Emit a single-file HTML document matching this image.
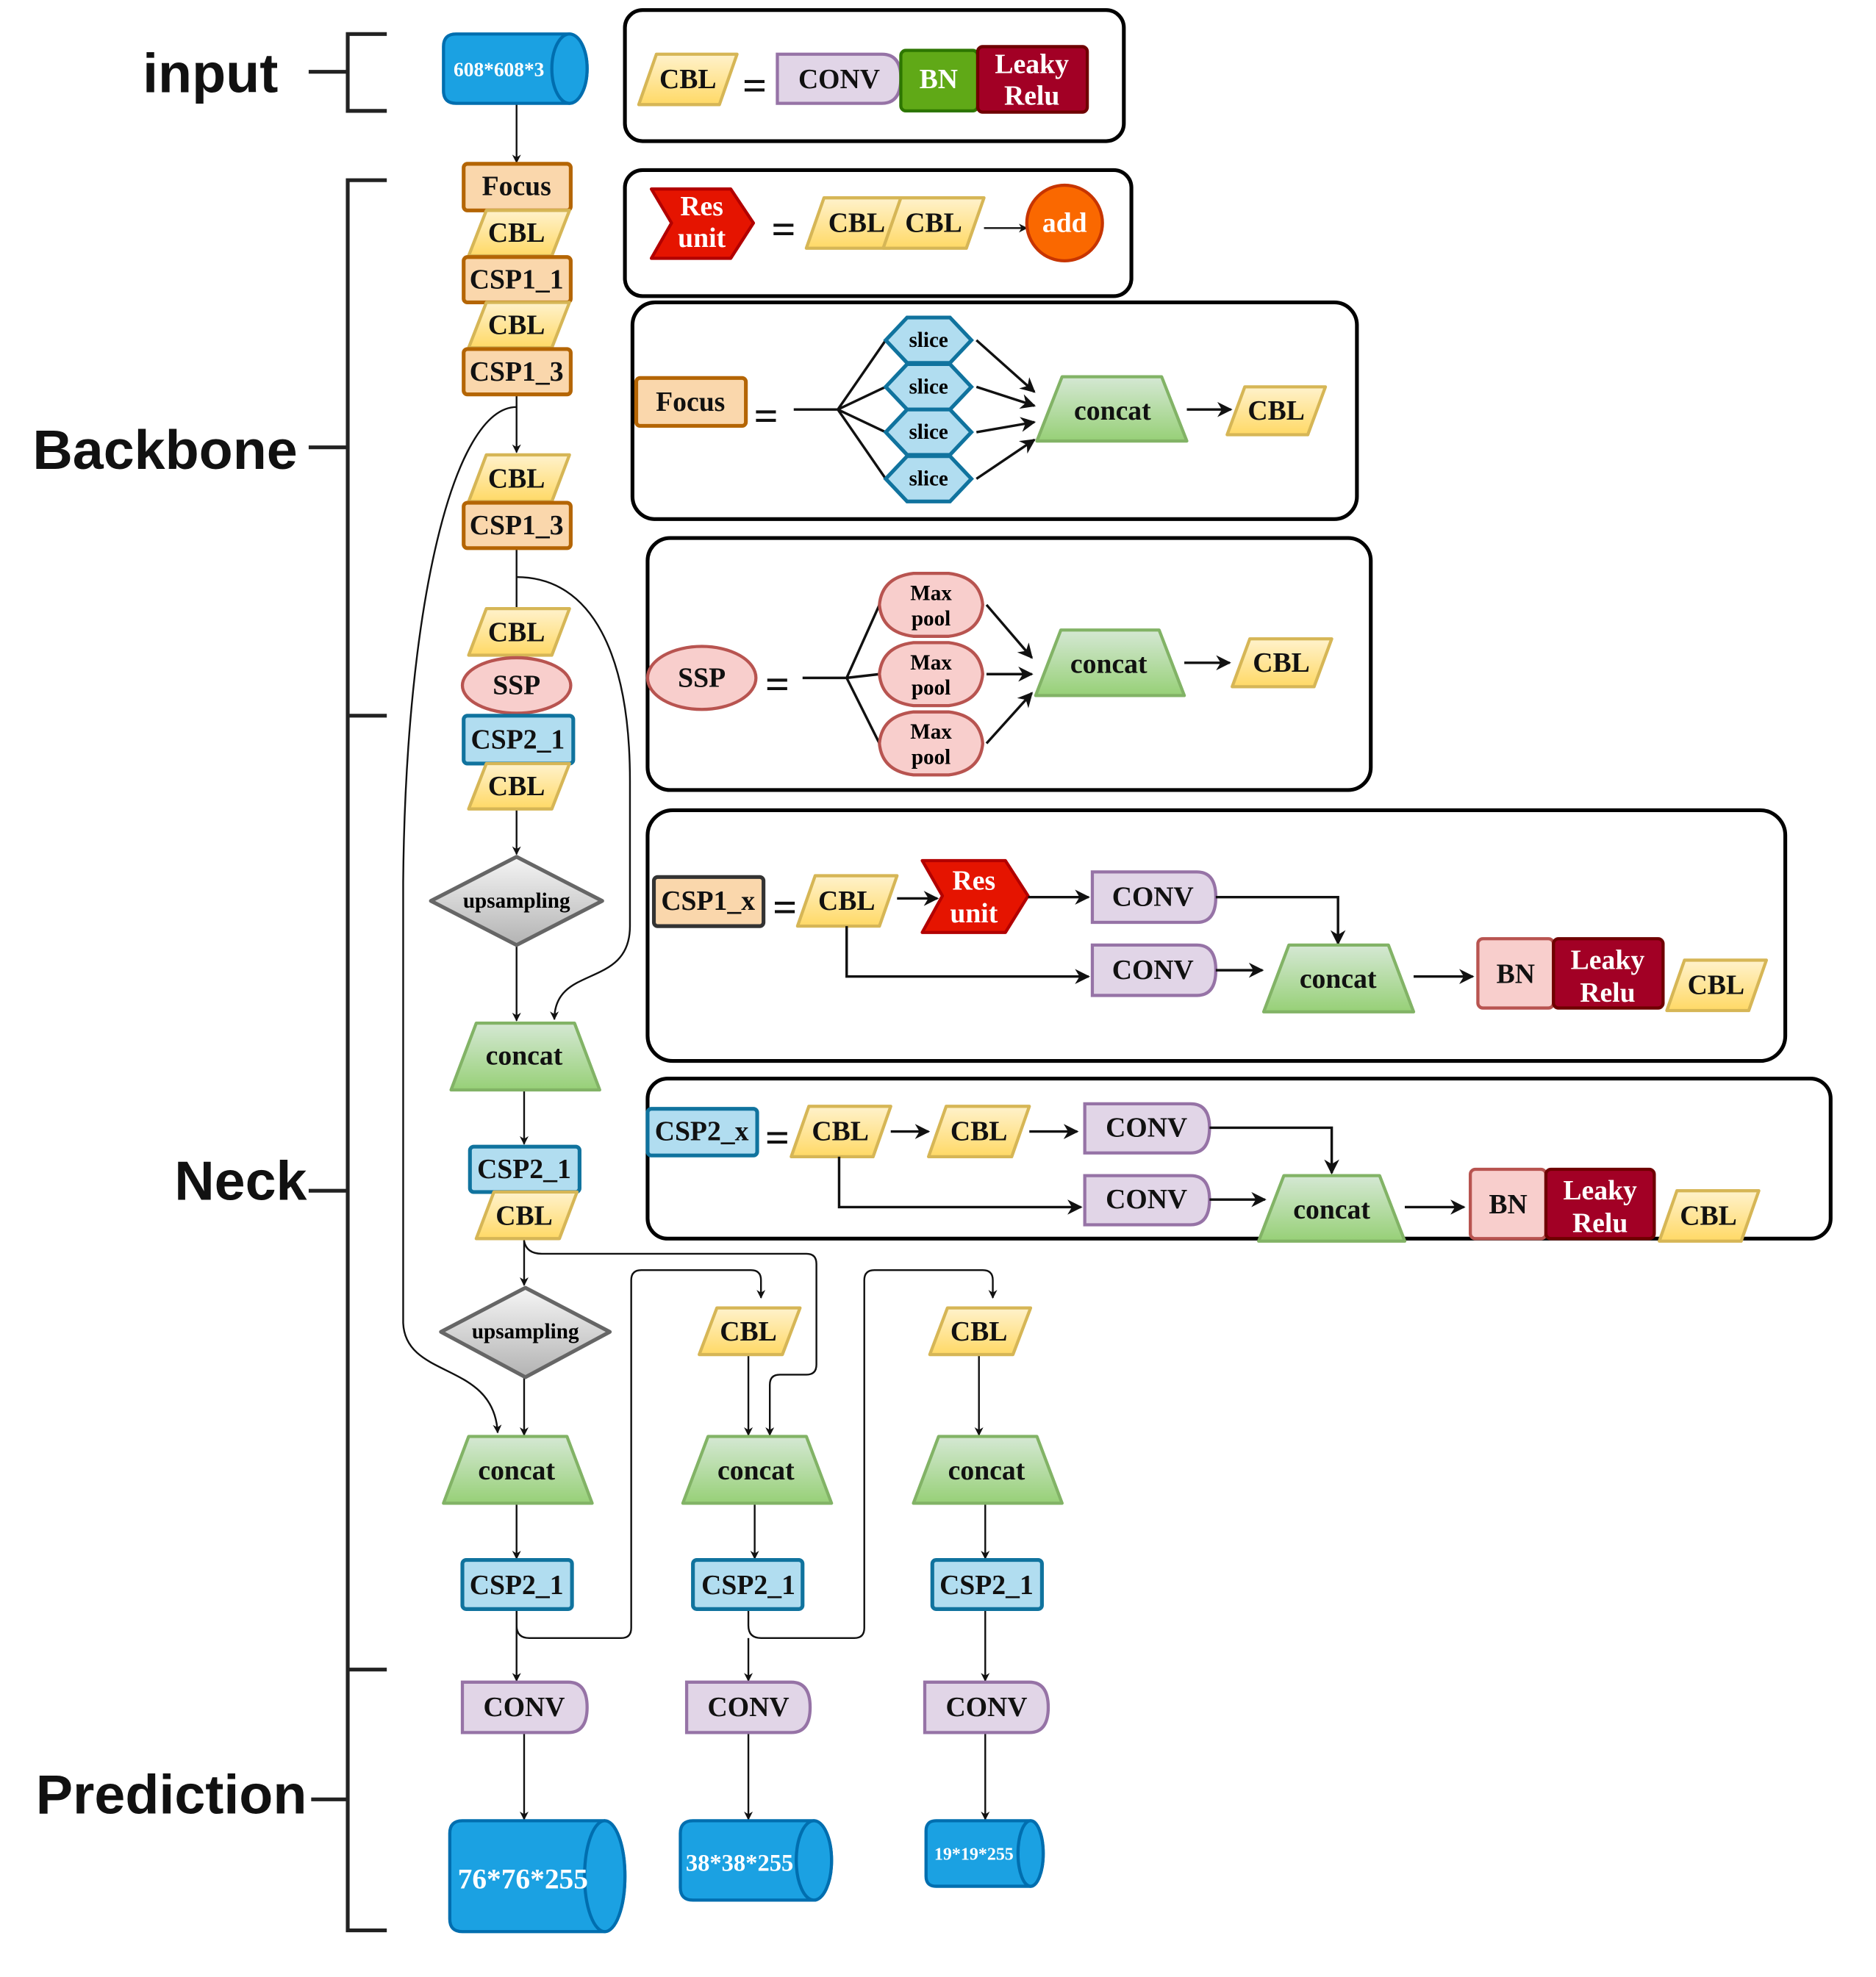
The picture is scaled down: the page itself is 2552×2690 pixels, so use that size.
<!DOCTYPE html>
<html><head><meta charset="utf-8"><style>
html,body{margin:0;padding:0;background:#fff}
svg{display:block}
text{font-family:"Liberation Serif",serif;font-weight:bold;text-anchor:middle;dominant-baseline:central}
.lab{font-family:"Liberation Sans",sans-serif;font-size:44px;fill:#111}
.cbl{fill:url(#gy);stroke:#d6b656;stroke-width:2.5;stroke-linejoin:round}
.org{fill:#fad7ac;stroke:#b46504;stroke-width:3}
.blu{fill:#b1ddf0;stroke:#10739e;stroke-width:3}
.grn{fill:url(#gg);stroke:#82b366;stroke-width:2.5;stroke-linejoin:round}
.pur{fill:#e1d5e7;stroke:#9673a6;stroke-width:2.5}
.pnk{fill:#f8cecc;stroke:#b85450;stroke-width:2.5}
.cyl{fill:#1ba1e2;stroke:#006eaf;stroke-width:2.5}
.pan{fill:#fff;stroke:#000;stroke-width:3}
.ln{fill:none;stroke:#111;stroke-width:1.4}
.lnb{fill:none;stroke:#111;stroke-width:2}
.br{fill:none;stroke:#222;stroke-width:3}
.t{font-size:22px;fill:#111}
.w{fill:#fff}
</style></head><body>
<svg width="2552" height="2690" viewBox="0 0 1489 1569" preserveAspectRatio="none" xmlns="http://www.w3.org/2000/svg">
<defs>
<linearGradient id="gy" x1="0" y1="0" x2="0" y2="1"><stop offset="0" stop-color="#fff2cc"/><stop offset="1" stop-color="#ffd966"/></linearGradient>
<linearGradient id="gg" x1="0" y1="0" x2="0" y2="1"><stop offset="0" stop-color="#d5e8d4"/><stop offset="1" stop-color="#97d077"/></linearGradient>
<linearGradient id="gs" x1="0" y1="0" x2="0" y2="1"><stop offset="0" stop-color="#f5f5f5"/><stop offset="1" stop-color="#b3b3b3"/></linearGradient>
<marker id="a" viewBox="0 0 10 10" refX="9" refY="5" markerWidth="7" markerHeight="7" orient="auto" markerUnits="userSpaceOnUse"><path d="M0,0 L10,5 L0,10 L3,5 Z" fill="#111"/></marker>
<marker id="ab" viewBox="0 0 10 10" refX="9" refY="5" markerWidth="12" markerHeight="12" orient="auto" markerUnits="userSpaceOnUse"><path d="M0,0 L10,5 L0,10 L3,5 Z" fill="#111"/></marker>
</defs>

<!-- Left labels & brackets -->
<text class="lab" x="167" y="58">input</text>
<text class="lab" x="131" y="357">Backbone</text>
<text class="lab" x="191" y="937">Neck</text>
<text class="lab" x="136" y="1424">Prediction</text>
<path class="br" d="M245,57 H276 M307,27 H276 V88 H307"/>
<path class="br" d="M307,143 H276 V1532 H307 M276,568 H307 M276,1325 H307 M245,355 H276 M245,945 H276 M247,1428 H276"/>

<!-- Panels -->
<rect class="pan" x="496" y="8" width="396" height="104" rx="14"/>
<rect class="pan" x="496" y="135" width="402" height="100" rx="14"/>
<rect class="pan" x="502" y="240" width="575" height="172" rx="18"/>
<rect class="pan" x="514" y="427" width="574" height="200" rx="18"/>
<rect class="pan" x="514" y="643" width="903" height="199" rx="20"/>
<rect class="pan" x="514" y="856" width="939" height="127" rx="16"/>

<!-- Panel 1 -->
<path class="cbl" d="M521,43 H585 L571,83 H507 Z"/><text class="t" x="546" y="63">CBL</text>
<text x="599" y="68" style="font-size:34px;fill:#111">=</text>
<path class="pur" d="M617,43 H700 Q715,43 715,62 Q715,82 700,82 H617 Z"/><text class="t" x="666" y="63">CONV</text>
<rect x="715" y="40" width="61" height="48" rx="4" fill="#60a917" stroke="#2d7600" stroke-width="2.5"/><text class="t w" x="745" y="63">BN</text>
<rect x="776" y="37" width="87" height="52" rx="4" fill="#a20025" stroke="#6f0000" stroke-width="2.5"/><text class="t w" x="819" y="51">Leaky</text><text class="t w" x="819" y="76">Relu</text>

<!-- Panel 2 -->
<path d="M517,150 H580 L598,177 L580,205 H517 L533,177 Z" fill="#e51400" stroke="#b20000" stroke-width="2.5" stroke-linejoin="round"/>
<text class="t w" x="557" y="164">Res</text><text class="t w" x="557" y="189">unit</text>
<text x="622" y="182" style="font-size:34px;fill:#111">=</text>
<path class="cbl" d="M654,157 H720 L706,197 H640 Z"/><text class="t" x="680" y="177">CBL</text>
<path class="cbl" d="M715,157 H781 L767,197 H701 Z"/><text class="t" x="741" y="177">CBL</text>
<path class="ln" d="M781,181 H815" marker-end="url(#a)"/>
<circle cx="845" cy="177" r="30" fill="#fa6800" stroke="#c73500" stroke-width="2.5"/><text class="t w" x="845" y="177">add</text>

<!-- Panel 3 Focus -->
<rect class="org" x="505" y="300" width="87" height="38" rx="3"/><text class="t" x="548" y="319">Focus</text>
<text x="608" y="330" style="font-size:34px;fill:#111">=</text>
<path class="lnb" d="M630,325 H665 M665,325 L703,270 M665,325 L703,307 M665,325 L703,343 M665,325 L703,380"/>
<g class="blu">
<path d="M703,270 L720,252 H754 L771,270 L754,288 H720 Z"/>
<path d="M703,307 L720,289 H754 L771,307 L754,325 H720 Z"/>
<path d="M703,343 L720,325 H754 L771,343 L754,361 H720 Z"/>
<path d="M703,380 L720,362 H754 L771,380 L754,398 H720 Z"/>
</g>
<text x="737" y="270" style="font-size:17px">slice</text><text x="737" y="307" style="font-size:17px">slice</text>
<text x="737" y="343" style="font-size:17px">slice</text><text x="737" y="380" style="font-size:17px">slice</text>
<path class="lnb" d="M775,270 L821,311" marker-end="url(#ab)"/>
<path class="lnb" d="M775,307 L821,322" marker-end="url(#ab)"/>
<path class="lnb" d="M775,343 L821,335" marker-end="url(#ab)"/>
<path class="lnb" d="M775,380 L821,349" marker-end="url(#ab)"/>
<path class="grn" d="M823,350 L843,299 H922 L942,350 Z"/><text class="t" x="883" y="326">concat</text>
<path class="lnb" d="M942,325 H977" marker-end="url(#ab)"/>
<path class="cbl" d="M988,307 H1052 L1038,345 H974 Z"/><text class="t" x="1013" y="326">CBL</text>

<!-- Panel 4 SSP -->
<ellipse class="pnk" cx="557" cy="538" rx="43" ry="25"/><text class="t" x="557" y="538">SSP</text>
<text x="617" y="543" style="font-size:34px;fill:#111">=</text>
<path class="lnb" d="M637,538 H672 M672,538 L698,480 M672,538 L698,535 M672,538 L698,590"/>
<g class="pnk">
<path d="M698,480 Q700,458 725,455 H753 Q778,458 780,480 Q778,502 753,505 H725 Q700,502 698,480 Z"/>
<path d="M698,535 Q700,513 725,510 H753 Q778,513 780,535 Q778,557 753,560 H725 Q700,557 698,535 Z"/>
<path d="M698,590 Q700,568 725,565 H753 Q778,568 780,590 Q778,612 753,615 H725 Q700,612 698,590 Z"/>
</g>
<text x="739" y="471" style="font-size:17px">Max</text><text x="739" y="491" style="font-size:17px">pool</text>
<text x="739" y="526" style="font-size:17px">Max</text><text x="739" y="546" style="font-size:17px">pool</text>
<text x="739" y="581" style="font-size:17px">Max</text><text x="739" y="601" style="font-size:17px">pool</text>
<path class="lnb" d="M783,480 L819,522" marker-end="url(#ab)"/>
<path class="lnb" d="M783,535 L819,535" marker-end="url(#ab)"/>
<path class="lnb" d="M783,590 L819,550" marker-end="url(#ab)"/>
<path class="grn" d="M822,552 L842,500 H920 L940,552 Z"/><text class="t" x="880" y="527">concat</text>
<path class="lnb" d="M940,526 H976" marker-end="url(#ab)"/>
<path class="cbl" d="M992,507 H1057 L1043,545 H978 Z"/><text class="t" x="1017" y="526">CBL</text>

<!-- Panel 5 CSP1_x -->
<rect x="519" y="696" width="87" height="39" rx="3" fill="#fad7ac" stroke="#333" stroke-width="3"/><text class="t" x="562" y="715">CSP1_x</text>
<text x="623" y="720" style="font-size:34px;fill:#111">=</text>
<path class="cbl" d="M647,695 H712 L698,735 H633 Z"/><text class="t" x="672" y="715">CBL</text>
<path class="lnb" d="M712,713 H744" marker-end="url(#ab)"/>
<path d="M732,683 H798 L816,711 L798,740 H732 L748,711 Z" fill="#e51400" stroke="#b20000" stroke-width="2.5" stroke-linejoin="round"/>
<text class="t w" x="773" y="699">Res</text><text class="t w" x="773" y="725">unit</text>
<path class="lnb" d="M816,712 H864" marker-end="url(#ab)"/>
<path class="pur" d="M867,692 H950 Q965,692 965,712 Q965,732 950,732 H867 Z"/><text class="t" x="915" y="712">CONV</text>
<path class="lnb" d="M965,712 H1062 V749" marker-end="url(#ab)"/>
<path class="lnb" d="M672,735 V775 H864" marker-end="url(#ab)"/>
<path class="pur" d="M867,750 H950 Q965,750 965,770 Q965,790 950,790 H867 Z"/><text class="t" x="915" y="770">CONV</text>
<path class="lnb" d="M965,770 H1002" marker-end="url(#ab)"/>
<path class="grn" d="M1003,803 L1023,750 H1102 L1122,803 Z"/><text class="t" x="1062" y="777">concat</text>
<path class="lnb" d="M1122,775 H1169" marker-end="url(#ab)"/>
<rect class="pnk" x="1173" y="745" width="60" height="55" rx="4"/><text class="t" x="1203" y="773">BN</text>
<rect x="1233" y="745" width="87" height="55" rx="4" fill="#a20025" stroke="#6f0000" stroke-width="2.5"/><text class="t w" x="1276" y="762">Leaky</text><text class="t w" x="1276" y="788">Relu</text>
<path class="cbl" d="M1337,762 H1402 L1388,802 H1323 Z"/><text class="t" x="1362" y="782">CBL</text>

<!-- Panel 6 CSP2_x -->
<rect class="blu" x="514" y="880" width="87" height="37" rx="3"/><text class="t" x="557" y="898">CSP2_x</text>
<text x="617" y="903" style="font-size:34px;fill:#111">=</text>
<path class="cbl" d="M642,878 H707 L693,918 H628 Z"/><text class="t" x="667" y="898">CBL</text>
<path class="lnb" d="M707,898 H737" marker-end="url(#ab)"/>
<path class="cbl" d="M751,878 H817 L803,918 H737 Z"/><text class="t" x="777" y="898">CBL</text>
<path class="lnb" d="M817,898 H855" marker-end="url(#ab)"/>
<path class="pur" d="M861,876 H945 Q960,876 960,895 Q960,915 945,915 H861 Z"/><text class="t" x="910" y="895">CONV</text>
<path class="lnb" d="M960,895 H1057 V931" marker-end="url(#ab)"/>
<path class="lnb" d="M666,918 V958 H858" marker-end="url(#ab)"/>
<path class="pur" d="M861,933 H945 Q960,933 960,952 Q960,972 945,972 H861 Z"/><text class="t" x="910" y="952">CONV</text>
<path class="lnb" d="M960,952 H1004" marker-end="url(#ab)"/>
<path class="grn" d="M999,985 L1019,933 H1095 L1115,985 Z"/><text class="t" x="1057" y="960">concat</text>
<path class="lnb" d="M1115,958 H1162" marker-end="url(#ab)"/>
<rect class="pnk" x="1167" y="928" width="60" height="55" rx="4"/><text class="t" x="1197" y="956">BN</text>
<rect x="1227" y="928" width="86" height="55" rx="4" fill="#a20025" stroke="#6f0000" stroke-width="2.5"/><text class="t w" x="1270" y="945">Leaky</text><text class="t w" x="1270" y="971">Relu</text>
<path class="cbl" d="M1331,945 H1396 L1382,985 H1317 Z"/><text class="t" x="1356" y="965">CBL</text>

<!-- Main column connectors -->
<path class="ln" d="M410,82 V129" marker-end="url(#a)"/>
<path class="ln" d="M410,313 V359" marker-end="url(#a)"/>
<path class="ln" d="M410,435 V483"/>
<path class="ln" d="M410,642 V678" marker-end="url(#a)"/>
<path class="ln" d="M410,750 V810" marker-end="url(#a)"/>
<path class="ln" d="M416,865 V908" marker-end="url(#a)"/>
<path class="ln" d="M416,983 V1020" marker-end="url(#a)"/>
<path class="ln" d="M416,1093 V1139" marker-end="url(#a)"/>
<path class="ln" d="M410,1193 V1237" marker-end="url(#a)"/>
<path class="ln" d="M410,1277 V1334" marker-end="url(#a)"/>
<path class="ln" d="M416,1375 V1444" marker-end="url(#a)"/>
<path class="ln" d="M410,323 C360,323 322,480 320,700 L320,1050 C322,1095 392,1080 395,1137" marker-end="url(#a)"/>
<path class="ln" d="M410,458 C470,458 500,520 500,620 L500,735 C500,785 440,765 440,809" marker-end="url(#a)"/>
<!-- col2/col3 connectors -->
<path class="ln" d="M416,985 Q418,995 430,995 H640 Q648,995 648,1003 V1083 Q648,1091 640,1091 H619 Q611,1091 611,1099 V1139" marker-end="url(#a)"/>
<path class="ln" d="M410,1277 V1290 Q410,1300 420,1300 H493 Q501,1300 501,1292 V1016 Q501,1008 509,1008 H596 Q604,1008 604,1016 V1030" marker-end="url(#a)"/>
<path class="ln" d="M594,1277 V1290 Q594,1300 604,1300 H678 Q686,1300 686,1292 V1016 Q686,1008 694,1008 H780 Q788,1008 788,1016 V1030" marker-end="url(#a)"/>
<path class="ln" d="M594,1075 V1139" marker-end="url(#a)"/>
<path class="ln" d="M599,1193 V1237" marker-end="url(#a)"/>
<path class="ln" d="M594,1300 V1334" marker-end="url(#a)"/>
<path class="ln" d="M594,1375 V1444" marker-end="url(#a)"/>
<path class="ln" d="M777,1075 V1139" marker-end="url(#a)"/>
<path class="ln" d="M782,1193 V1237" marker-end="url(#a)"/>
<path class="ln" d="M782,1277 V1334" marker-end="url(#a)"/>
<path class="ln" d="M782,1375 V1444" marker-end="url(#a)"/>

<!-- Main column nodes -->
<path class="cyl" d="M362,27 H452 A14,27.5 0 0 1 452,82 H362 Q352,82 352,72 V37 Q352,27 362,27 Z"/><ellipse class="cyl" cx="452" cy="54.5" rx="14" ry="27.5"/>
<text class="w" x="396" y="55" style="font-size:16px">608*608*3</text>
<rect class="org" x="368" y="130" width="85" height="37" rx="3"/><text class="t" x="410" y="148">Focus</text>
<path class="cbl" d="M386,167 H452 L438,203 H372 Z"/><text class="t" x="410" y="185">CBL</text>
<rect class="org" x="368" y="204" width="85" height="36" rx="3"/><text class="t" x="410" y="222">CSP1_1</text>
<path class="cbl" d="M386,240 H452 L438,276 H372 Z"/><text class="t" x="410" y="258">CBL</text>
<rect class="org" x="368" y="277" width="85" height="36" rx="3"/><text class="t" x="410" y="295">CSP1_3</text>
<path class="cbl" d="M386,361 H452 L438,398 H372 Z"/><text class="t" x="410" y="380">CBL</text>
<rect class="org" x="368" y="399" width="85" height="36" rx="3"/><text class="t" x="410" y="417">CSP1_3</text>
<path class="cbl" d="M386,483 H452 L438,520 H372 Z"/><text class="t" x="410" y="502">CBL</text>
<ellipse class="pnk" cx="410" cy="544" rx="43" ry="22"/><text class="t" x="410" y="544">SSP</text>
<rect class="blu" x="368" y="568" width="87" height="38" rx="3"/><text class="t" x="411" y="587">CSP2_1</text>
<path class="cbl" d="M386,606 H452 L438,642 H372 Z"/><text class="t" x="410" y="624">CBL</text>
<path d="M342,715 L410,680 L478,715 L410,750 Z" fill="url(#gs)" stroke="#666" stroke-width="3" stroke-linejoin="round"/><text x="410" y="715" style="font-size:17px">upsampling</text>
<path class="grn" d="M358,865 L378,812 H456 L476,865 Z"/><text class="t" x="416" y="838">concat</text>
<rect class="blu" x="373" y="910" width="87" height="36" rx="3"/><text class="t" x="416" y="928">CSP2_1</text>
<path class="cbl" d="M392,946 H458 L444,983 H378 Z"/><text class="t" x="416" y="965">CBL</text>
<path d="M350,1057 L417,1022 L484,1057 L417,1093 Z" fill="url(#gs)" stroke="#666" stroke-width="3" stroke-linejoin="round"/><text x="417" y="1057" style="font-size:17px">upsampling</text>
<path class="grn" d="M352,1193 L372,1140 H450 L470,1193 Z"/><text class="t" x="410" y="1167">concat</text>
<rect class="blu" x="367" y="1238" width="87" height="39" rx="3"/><text class="t" x="410" y="1258">CSP2_1</text>
<path class="pur" d="M367,1335 H451 Q466,1335 466,1355 Q466,1375 451,1375 H367 Z"/><text class="t" x="416" y="1355">CONV</text>
<path class="cyl" d="M367,1445 H480 A16,44 0 0 1 480,1533 H367 Q357,1533 357,1523 V1455 Q357,1445 367,1445 Z"/><ellipse class="cyl" cx="480" cy="1489" rx="16" ry="44"/>
<text class="w" x="415" y="1491" style="font-size:23px">76*76*255</text>

<!-- Column 2 -->
<path class="cbl" d="M569,1038 H635 L621,1075 H555 Z"/><text class="t" x="594" y="1057">CBL</text>
<path class="grn" d="M542,1193 L562,1140 H640 L660,1193 Z"/><text class="t" x="600" y="1167">concat</text>
<rect class="blu" x="550" y="1238" width="87" height="39" rx="3"/><text class="t" x="594" y="1258">CSP2_1</text>
<path class="pur" d="M545,1335 H628 Q643,1335 643,1355 Q643,1375 628,1375 H545 Z"/><text class="t" x="594" y="1355">CONV</text>
<path class="cyl" d="M550,1445 H646 A14,31.5 0 0 1 646,1508 H550 Q540,1508 540,1498 V1455 Q540,1445 550,1445 Z"/><ellipse class="cyl" cx="646" cy="1476.5" rx="14" ry="31.5"/>
<text class="w" x="587" y="1479" style="font-size:19px">38*38*255</text>

<!-- Column 3 -->
<path class="cbl" d="M752,1038 H818 L804,1075 H738 Z"/><text class="t" x="777" y="1057">CBL</text>
<path class="grn" d="M725,1193 L745,1140 H823 L843,1193 Z"/><text class="t" x="783" y="1167">concat</text>
<rect class="blu" x="740" y="1238" width="87" height="39" rx="3"/><text class="t" x="783" y="1258">CSP2_1</text>
<path class="pur" d="M734,1335 H817 Q832,1335 832,1355 Q832,1375 817,1375 H734 Z"/><text class="t" x="783" y="1355">CONV</text>
<path class="cyl" d="M743,1445 H818 A10,26 0 0 1 818,1497 H743 Q735,1497 735,1489 V1453 Q735,1445 743,1445 Z"/><ellipse class="cyl" cx="818" cy="1471" rx="10" ry="26"/>
<text class="w" x="773" y="1472" style="font-size:14px">19*19*255</text>
</svg>
</body></html>
